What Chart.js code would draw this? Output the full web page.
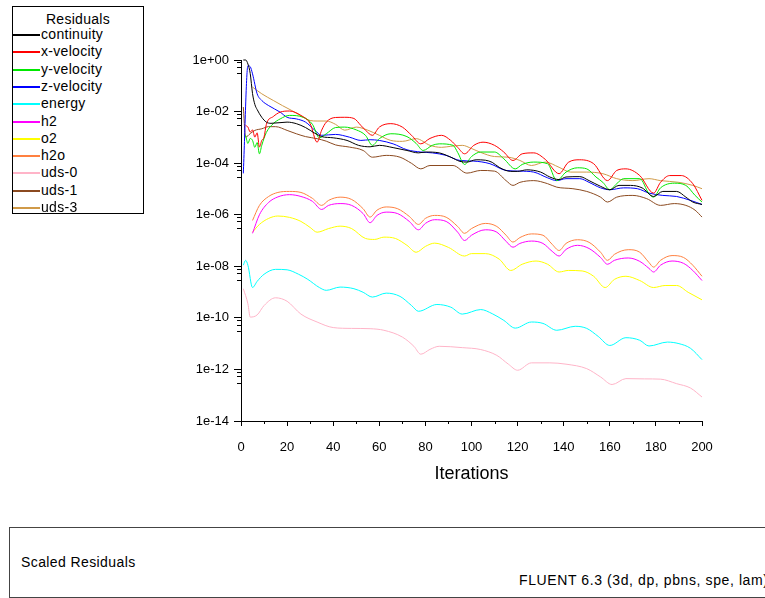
<!DOCTYPE html>
<html><head><meta charset="utf-8">
<script src="https://cdn.jsdelivr.net/npm/chart.js@4.4.1/dist/chart.umd.min.js"></script>
<style>
html,body{margin:0;padding:0;background:#fff;}
body{width:765px;height:598px;overflow:hidden;position:relative;font-family:"Liberation Sans",Arial,sans-serif;}
#c{position:absolute;left:0;top:0;}
#legend{position:absolute;left:12px;top:6px;width:132px;height:208px;border:1px solid #000;box-sizing:border-box;background:#fff;color:#000;font-size:14px;letter-spacing:0.3px;}
#legend .title{position:absolute;left:0;width:100%;text-align:center;top:3px;line-height:18px;}
#legend .item{position:absolute;left:0;height:17px;line-height:17px;white-space:nowrap;}
#legend .swatch{position:absolute;left:0;top:8px;width:27px;height:2px;}
#legend .lbl{position:absolute;left:28px;top:0;}
#footer{position:absolute;left:9px;top:527px;width:800px;height:71px;border:1px solid #444;box-sizing:border-box;background:#fff;color:#000;font-size:14px;letter-spacing:0.4px;}
#footer div{position:absolute;white-space:nowrap;line-height:16px;}
</style></head>
<body>
<canvas id="c" width="765" height="598"></canvas>
<div id="legend"></div>
<div id="footer"><div id="f1" style="left:11px;top:26px;">Scaled Residuals</div><div id="f2" style="left:509px;top:44px;letter-spacing:0.6px;">FLUENT 6.3 (3d, dp, pbns, spe, lam)</div></div>
<script>
// ---------- data ----------
const seriesNames = ['continuity','x-velocity','y-velocity','z-velocity','energy','h2','o2','h2o','uds-0','uds-1','uds-3'];
const seriesColors = ['#000000','#FF0000','#00E800','#0000FF','#00FFFF','#FF00FF','#FFFF00','#FF8040','#FFB4C8','#8B4A20','#D09A48'];

const yTickValues = [1e-14,1e-12,1e-10,1e-8,1e-6,1e-4,1e-2,1];
const yTickLabels = ['1e-14','1e-12','1e-10','1e-08','1e-06','1e-04','1e-02','1e+00'];
const xTickStep = 20;
const xMinorTicks = [10,30,50,70,90,110,130,150,170,190];
const yMinorFactors = [0.8,0.55,0.3];

const continuityIter = [1,2,3,4,5,6,7,9,11,13,20,24,28,32,35,40,46,51,56,60,66,72,77,80,86,91,95,98,102,106,109,112,117,120,124,130,134,138,141,147,151,156,160,164,169,174,179,183,189,193,196,200];
const continuityVals = [1.0,1.0,0.7,0.3,0.05,0.019,0.012,6e-3,3.9e-3,3.5e-3,3.9e-3,3.4e-3,2.4e-3,1.45e-3,1.07e-3,9.6e-4,7.6e-4,4.9e-4,4.3e-4,4.9e-4,4.0e-4,3.1e-4,2.5e-4,2.7e-4,2.5e-4,1.7e-4,1.17e-4,1.1e-4,1.35e-4,1.3e-4,1.07e-4,6.9e-5,4.8e-5,4.8e-5,5.5e-5,4.5e-5,2.9e-5,2.3e-5,2.9e-5,3.0e-5,2.1e-5,1.26e-5,9.3e-6,1.37e-5,1.37e-5,1.1e-5,5.1e-6,8.0e-6,8.0e-6,4.8e-6,3.1e-6,2.5e-6];

const xVelIter = [2,3,4,5,6,7,8,9,10,11,14,17,21,26,30,33,35,37,41,45,49,52,54,57,60,65,70,74,78,82,87,91,94,97,101,105,110,114,118,122,127,132,138,142,147,153,159,163,167,173,179,182,186,191,196,200];
const xVelVals = [2.9e-3,2.5e-3,1.6e-3,1.95e-3,1.02e-3,1.5e-3,4.2e-4,7.6e-4,1.02e-3,3.2e-3,6.4e-3,9.5e-3,1.05e-2,7.1e-3,3.4e-3,6.5e-4,1.9e-3,3.9e-3,5.9e-3,6.0e-3,5.4e-3,2.9e-3,1.9e-3,1.2e-3,2.5e-3,3.4e-3,2.5e-3,1.2e-3,5.6e-4,9.1e-4,1.2e-3,7.6e-4,4.1e-4,2.3e-4,4.9e-4,6.5e-4,4.9e-4,2.7e-4,1.27e-4,2.3e-4,2.5e-4,1.4e-4,3.9e-5,1.07e-4,1.35e-4,9.5e-5,2.1e-5,5.2e-5,6.0e-5,3.3e-5,6.9e-6,1.8e-5,3.3e-5,3.3e-5,1.6e-5,3.6e-6];

const yVelIter = [2,3,4,5,6,7,8,9,11,14,17,21,27,31,34,37,41,45,50,54,57,60,65,72,76,79,83,86,92,94,97,100,104,110,114,119,122,127,133,137,141,146,150,154,157,160,163,166,173,177,179,182,188,193,197,200];
const yVelVals = [1.2e-3,5.8e-4,9.1e-4,7.6e-4,4.1e-4,6.3e-4,2.3e-4,4.9e-4,1.55e-3,3.4e-3,5.2e-3,7.1e-3,6.0e-3,3.2e-3,9.6e-4,1.38e-3,2.4e-3,2.5e-3,1.95e-3,1.2e-3,4.9e-4,8.9e-4,1.38e-3,1.07e-3,5.8e-4,3.1e-4,4.9e-4,5.6e-4,4.9e-4,2.6e-4,8.9e-5,1.8e-4,2.7e-4,2.7e-4,1.48e-4,6.0e-5,8.9e-5,1.1e-4,9.5e-5,2.1e-5,4.5e-5,6.6e-5,6.0e-5,2.9e-5,1.8e-5,9.3e-6,1.6e-5,2.5e-5,2.5e-5,6.5e-6,4.8e-6,1.1e-5,1.67e-5,1.37e-5,5.6e-6,3.1e-6];

const zVelIter = [1,3,4,5,7,9,12,17,20,24,28,32,35,41,47,52,56,60,66,72,78,83,89,95,101,108,115,121,127,133,137,141,147,151,156,160,166,172,177,183,189,195,200];
const zVelVals = [4e-5,0.6,0.55,0.29,0.049,0.027,0.017,9.5e-3,6.0e-3,5.2e-3,3.9e-3,1.9e-3,1.2e-3,1.3e-3,1.02e-3,7.6e-4,8.1e-4,7.6e-4,5.6e-4,3.3e-4,2.7e-4,2.5e-4,2.0e-4,1.27e-4,1.2e-4,9.5e-5,5.2e-5,4.9e-5,4.5e-5,2.7e-5,2.1e-5,2.5e-5,2.5e-5,1.8e-5,1.1e-5,9.3e-6,1.1e-5,1.02e-5,6.9e-6,5.6e-6,5.1e-6,3.6e-6,2.5e-6];

const energyIter = [1,2,3,5,7,10,15,20,25,29,34,37,43,49,53,57,63,69,74,77,85,91,96,104,109,114,119,126,131,137,145,150,155,160,167,173,177,185,190,195,200];
const energyVals = [1.1e-8,1.7e-8,1.1e-8,1.5e-9,2.6e-9,4.9e-9,7.6e-9,7.3e-9,4.9e-9,3.1e-9,1.5e-9,1.17e-9,1.56e-9,1.35e-9,9.8e-10,6.4e-10,9.1e-10,6.8e-10,3.0e-10,1.8e-10,3.3e-10,2.6e-10,1.4e-10,2.1e-10,1.45e-10,8.0e-11,4.0e-11,6.9e-11,6.1e-11,3.3e-11,4.7e-11,3.9e-11,1.9e-11,8.5e-12,1.7e-11,1.35e-11,8.1e-12,1.15e-11,1.0e-11,6.6e-12,2.4e-12];

const speciesIter = [5,8,12,16,21,26,31,35,38,43,48,53,56,59,63,68,73,77,80,84,89,94,97,100,106,111,115,118,121,126,131,135,138,141,146,151,156,159,162,168,173,177,179,182,187,192,196,200];
const h2Vals = [1.9e-7,1.0e-6,3.0e-6,4.9e-6,6.0e-6,5.1e-6,3.3e-6,1.6e-6,2.3e-6,2.7e-6,2.3e-6,1.1e-6,4.9e-7,9.4e-7,1.26e-6,1.1e-6,5.5e-7,2.6e-7,4.6e-7,6.4e-7,5.5e-7,2.1e-7,1.0e-7,1.6e-7,2.6e-7,2.1e-7,9.3e-8,5.5e-8,7.7e-8,9.5e-8,7.7e-8,3.8e-8,2.5e-8,4.5e-8,6.5e-8,4.9e-8,2.2e-8,1.2e-8,1.7e-8,2.1e-8,1.55e-8,8.3e-9,6.0e-9,1.1e-8,1.6e-8,1.3e-8,6.9e-9,2.8e-9];
const h2oVals = [6.0e-7,2.3e-6,5.1e-6,7.3e-6,8.0e-6,7.3e-6,4.3e-6,2.3e-6,3.6e-6,4.8e-6,3.9e-6,1.7e-6,8.1e-7,1.5e-6,2.0e-6,1.7e-6,8.6e-7,4.2e-7,7.2e-7,9.4e-7,8.0e-7,3.5e-7,1.9e-7,2.9e-7,4.6e-7,3.5e-7,1.6e-7,8.7e-8,1.3e-7,1.8e-7,1.6e-7,7.1e-8,4.1e-8,7.7e-8,1.07e-7,8.5e-8,3.5e-8,1.7e-8,2.9e-8,4.4e-8,3.5e-8,1.4e-8,9.3e-9,1.7e-8,2.6e-8,2.2e-8,1.1e-8,4.1e-9];

const o2Iter = [5,8,12,16,21,26,30,33,38,43,48,54,58,62,67,72,76,80,84,90,97,100,106,112,117,122,128,133,138,142,148,153,158,162,167,173,179,184,189,194,200];
const o2Vals = [2.1e-7,4.2e-7,7.2e-7,8.9e-7,7.9e-7,5.5e-7,3.2e-7,2.1e-7,2.9e-7,3.6e-7,2.9e-7,1.2e-7,1.1e-7,1.35e-7,1.2e-7,6.5e-8,3.5e-8,5.9e-8,7.9e-8,5.4e-8,2.5e-8,3.1e-8,3.1e-8,1.9e-8,6.9e-9,1.2e-8,1.6e-8,1.2e-8,6.0e-9,6.9e-9,6.6e-9,4.1e-9,1.5e-9,3.1e-9,4.1e-9,2.8e-9,1.5e-9,1.8e-9,1.8e-9,9.8e-10,5.0e-10];

const uds0Iter = [1,3,4,7,10,15,20,26,33,40,48,56,62,70,75,78,82,86,96,104,111,116,120,126,134,141,150,156,161,167,175,182,189,195,200];
const uds0Vals = [1.35e-9,3.5e-10,1.07e-10,1.3e-10,3.0e-10,6.0e-10,4.4e-10,1.4e-10,6.9e-11,4.2e-11,3.9e-11,3.8e-11,3.3e-11,1.8e-11,7.9e-12,3.9e-12,6.0e-12,7.9e-12,7.0e-12,5.9e-12,3.5e-12,1.6e-12,9.3e-13,1.8e-12,1.8e-12,1.6e-12,1.07e-12,5.1e-13,2.6e-13,4.4e-13,4.3e-13,4.2e-13,2.8e-13,1.9e-13,8.5e-14];

const uds1Iter = [1,2,4,6,9,12,15,20,24,28,33,37,41,47,53,57,63,69,74,78,82,92,98,104,110,115,118,121,127,133,137,144,150,156,159,163,170,176,182,188,193,197,200];
const uds1Vals = [0.015,1.02e-3,1.4e-3,1.86e-3,2.15e-3,2.6e-3,2.6e-3,1.86e-3,1.38e-3,1.07e-3,8.9e-4,7.1e-4,5.1e-4,4.2e-4,3.1e-4,1.7e-4,2.0e-4,1.7e-4,9.8e-5,6.0e-5,8.1e-5,8.1e-5,4.1e-5,5.2e-5,4.9e-5,2.1e-5,1.37e-5,1.8e-5,2.1e-5,1.6e-5,1.17e-5,1.02e-5,8.0e-6,4.8e-6,3.1e-6,4.8e-6,5.6e-6,4.2e-6,2.3e-6,2.7e-6,2.3e-6,1.5e-6,8.1e-7];

const uds3Iter = [5,9,14,18,22,27,30,33,37,41,45,50,55,60,65,70,76,82,87,91,96,100,104,110,116,121,126,132,138,143,150,157,163,170,177,182,190,196,200];
const uds3Vals = [0.089,0.049,0.027,0.017,0.011,6.0e-3,4.5e-3,4.3e-3,4.3e-3,3.2e-3,1.9e-3,2.5e-3,1.9e-3,1.2e-3,7.6e-4,7.0e-4,8.9e-4,4.9e-4,4.1e-4,4.5e-4,4.9e-4,3.7e-4,2.6e-4,1.8e-4,1.7e-4,1.27e-4,8.1e-5,1.1e-4,6.9e-5,4.5e-5,4.5e-5,3.9e-5,2.5e-5,2.1e-5,2.5e-5,2.1e-5,1.8e-5,1.37e-5,1.02e-5];

// ---------- build ----------
const seriesData = [
  [continuityIter, continuityVals],
  [xVelIter, xVelVals],
  [yVelIter, yVelVals],
  [zVelIter, zVelVals],
  [energyIter, energyVals],
  [speciesIter, h2Vals],
  [o2Iter, o2Vals],
  [speciesIter, h2oVals],
  [uds0Iter, uds0Vals],
  [uds1Iter, uds1Vals],
  [uds3Iter, uds3Vals]
];

const FONT = '"Liberation Sans", Arial, sans-serif';
Chart.defaults.font.family = FONT;

const datasets = seriesNames.map((name, i) => ({
  label: name,
  data: seriesData[i][0].map((it, k) => ({x: it, y: seriesData[i][1][k]})),
  borderColor: seriesColors[i],
  backgroundColor: seriesColors[i],
  borderWidth: 1,
  pointRadius: 0,
  fill: false,
  cubicInterpolationMode: 'monotone',
  clip: false
}));

const minorTicks = {
  id: 'minorTicks',
  afterDraw(chart) {
    const ctx = chart.ctx, ys = chart.scales.y, xs = chart.scales.x;
    ctx.save();
    ctx.strokeStyle = '#000';
    ctx.lineWidth = 1;
    ctx.beginPath();
    yTickValues.forEach(v => {
      if (v <= yTickValues[0]) return;
      yMinorFactors.forEach(f => {
        const p = Math.round(ys.getPixelForValue(v * f)) + 0.5;
        ctx.moveTo(ys.right - 4, p); ctx.lineTo(ys.right, p);
      });
    });
    xMinorTicks.forEach(v => {
      const p = Math.round(xs.getPixelForValue(v)) + 0.5;
      ctx.moveTo(p, xs.top); ctx.lineTo(p, xs.top + 3);
    });
    ctx.stroke();
    ctx.restore();
  }
};

const chart = new Chart(document.getElementById('c'), {
  type: 'line',
  data: { datasets },
  options: {
    responsive: false,
    animation: false,
    devicePixelRatio: 1,
    layout: { padding: { left: 0, top: 60, right: 63, bottom: 113 } },
    plugins: { legend: { display: false }, tooltip: { enabled: false } },
    scales: {
      x: {
        type: 'linear', min: 0, max: 200,
        ticks: { stepSize: xTickStep, color: '#000', font: { size: 13 }, padding: 14, maxRotation: 0, autoSkip: false },
        grid: { drawOnChartArea: false, tickLength: 5, color: '#000' },
        border: { color: '#000', width: 1 },
        title: { display: true, text: 'Iterations', color: '#000', font: { size: 18 }, padding: 0 },
        afterFit: s => { s.height = 64; }
      },
      y: {
        type: 'logarithmic', min: yTickValues[0], max: yTickValues[yTickValues.length - 1],
        afterBuildTicks: s => { s.ticks = yTickValues.map(v => ({ value: v })); },
        ticks: { color: '#000', font: { size: 13 }, padding: 5, autoSkip: false,
                 callback: v => { const i = yTickValues.indexOf(v); return i >= 0 ? yTickLabels[i] : ''; } },
        grid: { drawOnChartArea: false, tickLength: 7, color: '#000' },
        border: { color: '#000', width: 1 },
        afterFit: s => { s.width = 241; }
      }
    }
  },
  plugins: [minorTicks]
});

// ---------- HTML legend built from chart datasets ----------
const leg = document.getElementById('legend');
const t = document.createElement('div'); t.className = 'title'; t.textContent = 'Residuals'; leg.appendChild(t);
chart.data.datasets.forEach((ds, i) => {
  const it = document.createElement('div'); it.className = 'item';
  it.style.top = (19 + 17.3 * i) + 'px';
  it.style.width = '125px';
  const sw = document.createElement('span'); sw.className = 'swatch'; sw.style.background = ds.borderColor;
  const lb = document.createElement('span'); lb.className = 'lbl'; lb.textContent = ds.label;
  it.appendChild(sw); it.appendChild(lb); leg.appendChild(it);
});
</script>
</body></html>
